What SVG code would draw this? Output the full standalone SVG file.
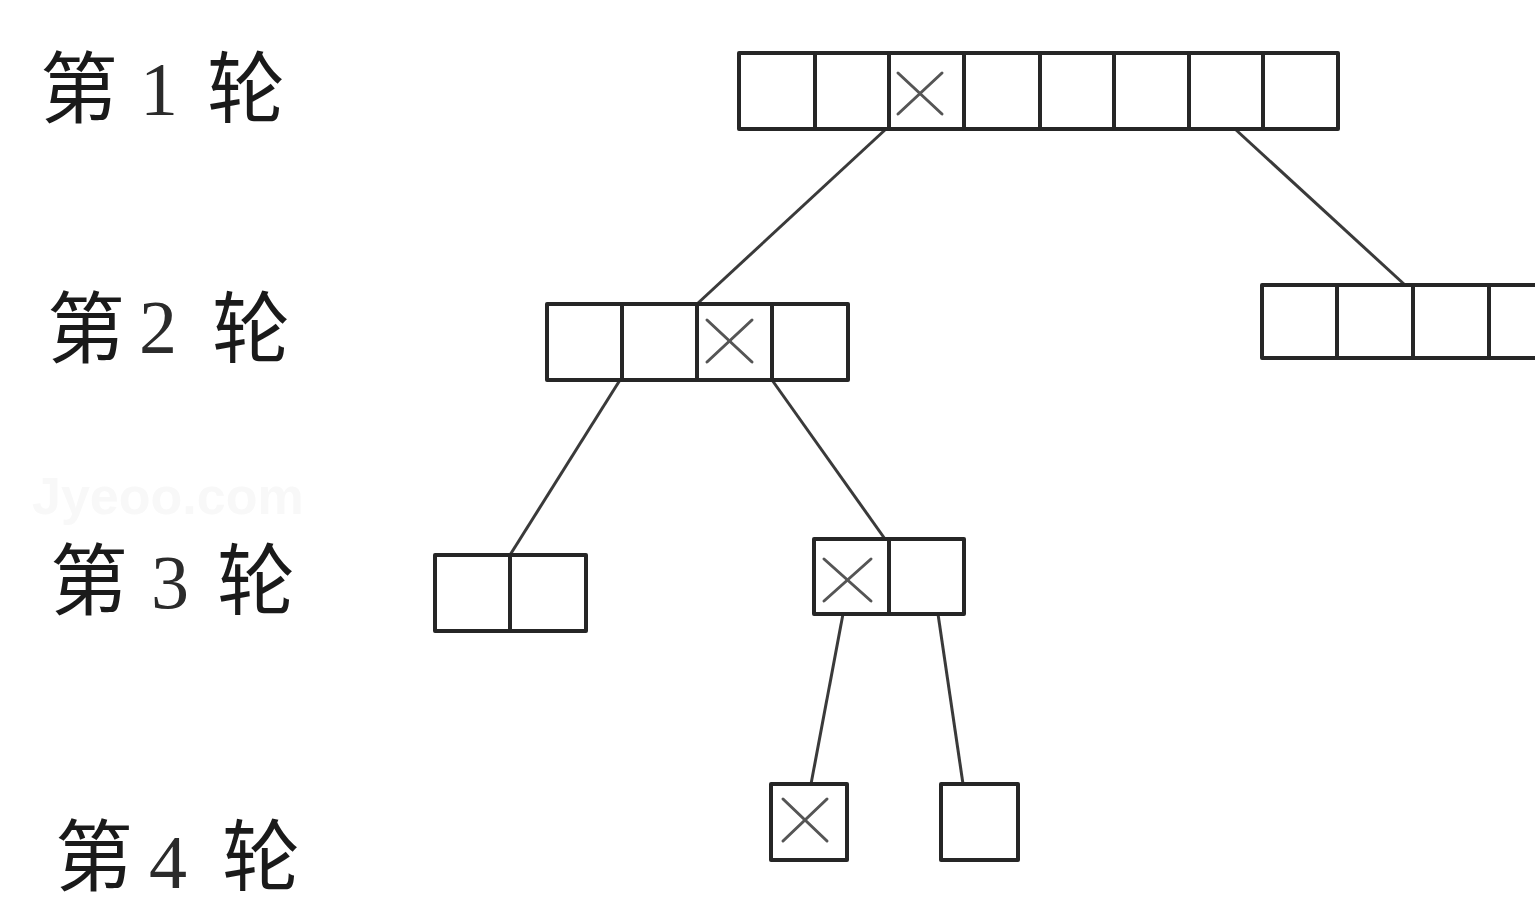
<svg xmlns="http://www.w3.org/2000/svg" width="1535" height="899" viewBox="0 0 1535 899">
  <style>
    .cell { fill: #ffffff; stroke: #262626; stroke-width: 4; stroke-linejoin: round; }
    .div { stroke: #262626; stroke-width: 4; }
    .mark { stroke: #555555; stroke-width: 3; stroke-linecap: round; }
    .edge { stroke: #3a3a3a; stroke-width: 3; fill: none; }
    .cjk { font-family: "Noto Sans CJK SC", sans-serif; font-size: 78px; font-weight: 400; fill: #1a1a1a; }
    .num { font-family: "Liberation Serif", serif; font-size: 76px; fill: #2b2b2b; }
    .wm { font-family: "Liberation Sans", sans-serif; font-size: 52px; font-weight: bold; fill: #f8f8f8; }
  </style>
  <rect width="1535" height="899" fill="#ffffff"/>

  <!-- faint watermark -->
  <text class="wm" x="32" y="514">Jyeoo.com</text>

  <!-- round labels -->
  <g id="labels">
    <g id="label-1">
      <text class="cjk" x="40" y="117">第</text>
      <text class="num" x="140" y="115" fill="#3a2626">1</text>
      <text class="cjk" x="207" y="117">轮</text>
    </g>
    <g id="label-2">
      <text class="cjk" x="47" y="357">第</text>
      <text class="num" x="139" y="353">2</text>
      <text class="cjk" x="212" y="357">轮</text>
    </g>
    <g id="label-3">
      <text class="cjk" x="50" y="609">第</text>
      <text class="num" x="151" y="608">3</text>
      <text class="cjk" x="217" y="609">轮</text>
    </g>
    <g id="label-4">
      <text class="cjk" x="55" y="885">第</text>
      <text class="num" x="149" y="888">4</text>
      <text class="cjk" x="222" y="885">轮</text>
    </g>
  </g>

  <!-- connectors -->
  <g id="connectors">
    <line class="edge" x1="886" y1="129" x2="697" y2="304"/>
    <line class="edge" x1="1235" y1="129" x2="1405" y2="285"/>
    <line class="edge" x1="620" y1="380" x2="510" y2="555"/>
    <line class="edge" x1="772" y1="380" x2="885" y2="539"/>
    <line class="edge" x1="843" y1="614" x2="811" y2="784"/>
    <line class="edge" x1="938" y1="614" x2="963" y2="784"/>
  </g>

  <!-- round 1: eight cells -->
  <g id="row1">
    <rect class="cell" x="739" y="53" width="599" height="76"/>
    <line class="div" x1="815" y1="53" x2="815" y2="129"/>
    <line class="div" x1="889" y1="53" x2="889" y2="129"/>
    <line class="div" x1="964" y1="53" x2="964" y2="129"/>
    <line class="div" x1="1040" y1="53" x2="1040" y2="129"/>
    <line class="div" x1="1114" y1="53" x2="1114" y2="129"/>
    <line class="div" x1="1189" y1="53" x2="1189" y2="129"/>
    <line class="div" x1="1263" y1="53" x2="1263" y2="129"/>
    <line class="mark" x1="898" y1="73" x2="942" y2="114"/>
    <line class="mark" x1="942" y1="73" x2="898" y2="114"/>
  </g>

  <!-- round 2: left group of four -->
  <g id="row2-left">
    <rect class="cell" x="547" y="304" width="301" height="76"/>
    <line class="div" x1="622" y1="304" x2="622" y2="380"/>
    <line class="div" x1="697" y1="304" x2="697" y2="380"/>
    <line class="div" x1="772" y1="304" x2="772" y2="380"/>
    <line class="mark" x1="707" y1="320" x2="752" y2="362"/>
    <line class="mark" x1="752" y1="320" x2="707" y2="362"/>
  </g>

  <!-- round 2: right group of four -->
  <g id="row2-right">
    <rect class="cell" x="1262" y="285" width="300" height="73"/>
    <line class="div" x1="1337" y1="285" x2="1337" y2="358"/>
    <line class="div" x1="1413" y1="285" x2="1413" y2="358"/>
    <line class="div" x1="1489" y1="285" x2="1489" y2="358"/>
  </g>

  <!-- round 3: left pair -->
  <g id="row3-left">
    <rect class="cell" x="435" y="555" width="151" height="76"/>
    <line class="div" x1="510" y1="555" x2="510" y2="631"/>
  </g>

  <!-- round 3: right pair -->
  <g id="row3-right">
    <rect class="cell" x="814" y="539" width="150" height="75"/>
    <line class="div" x1="889" y1="539" x2="889" y2="614"/>
    <line class="mark" x1="824" y1="559" x2="871" y2="601"/>
    <line class="mark" x1="871" y1="559" x2="824" y2="601"/>
  </g>

  <!-- round 4: single cells -->
  <g id="row4-a">
    <rect class="cell" x="771" y="784" width="76" height="76"/>
    <line class="mark" x1="783" y1="799" x2="827" y2="841"/>
    <line class="mark" x1="827" y1="799" x2="783" y2="841"/>
  </g>
  <g id="row4-b">
    <rect class="cell" x="941" y="784" width="77" height="76"/>
  </g>
</svg>
